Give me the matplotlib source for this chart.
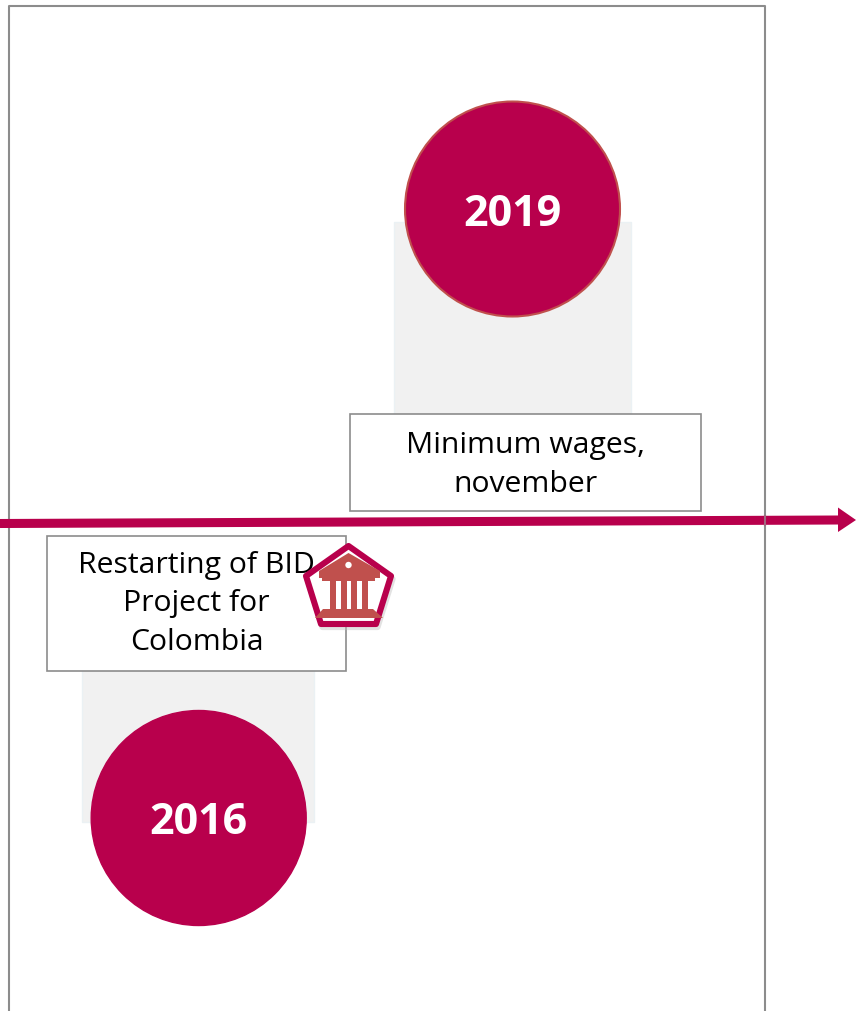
import matplotlib
matplotlib.use('Agg')
import matplotlib.pyplot as plt
from matplotlib.patches import Rectangle, Circle, Polygon

years = ['2016', '2019']
events = ['Restarting of BID\nProject for\nColombia', 'Minimum wages,\nnovember']

crimson = '#b8004c'
icon_red = '#c0504d'
W, H = 856, 1011

plt.rcParams['font.family'] = ['Open Sans', 'DejaVu Sans']

fig = plt.figure(figsize=(W / 100, H / 100), dpi=100)
ax = fig.add_axes([0, 0, 1, 1])
ax.set_xlim(0, W)
ax.set_ylim(H, 0)
ax.axis('off')

# outer frame, runs off the bottom
ax.plot([9, 9, 765, 765], [H + 5, 5.5, 5.5, H + 5], color='#8c8c8c', lw=1.5, zorder=1)

# grey backing panels behind the circles
ax.add_patch(Rectangle((82.5, 660), 232, 161.5, fc='#f1f1f1', ec='#ebf1f4', lw=1, zorder=2))
ax.add_patch(Rectangle((394.5, 221.5), 237, 200, fc='#f1f1f1', ec='#ebf1f4', lw=1, zorder=2))

# year circles
ax.add_patch(Circle((198.7, 818), 107.5, fc=crimson, ec=crimson, lw=1, zorder=3))
ax.add_patch(Circle((512.5, 209), 107.5, fc=crimson, ec=icon_red, lw=1.5, zorder=3))
ax.text(198.5, 823, years[0], color='white', fontsize=31, fontweight='bold', ha='center', va='center', zorder=4)
ax.text(512.5, 214.5, years[1], color='white', fontsize=31, fontweight='bold', ha='center', va='center', zorder=4)

# text boxes
ax.add_patch(Rectangle((47.5, 535.5), 298.5, 135, fc='white', ec='#8c8c8c', lw=1.2, zorder=5))
ax.add_patch(Rectangle((350.5, 414), 351, 96.5, fc='white', ec='#8c8c8c', lw=1.2, zorder=5))
ax.text(196.5, 604, events[0], color='black', fontsize=21.7, ha='center', va='center', linespacing=1.41, zorder=6)
ax.text(525.5, 465, events[1], color='black', fontsize=21.7, ha='center', va='center', linespacing=1.41, zorder=6)

# timeline arrow, slightly tilted
ax.plot([0, 839], [523.5, 520], color=crimson, lw=6.5, solid_capstyle='butt', zorder=7)
ax.add_patch(Polygon([(838, 507.5), (856, 520), (838, 532)], fc=crimson, ec='none', zorder=7))
# frame shows through the arrow
ax.plot([765, 765], [516, 525], color='#a06a80', lw=1.5, zorder=8)

# bank icon: pentagon badge with soft shadow
badge = [(348.5, 546), (391, 576), (376, 624), (321, 624), (306, 576)]
ax.add_patch(Polygon([(x + 1.5, y + 3) for x, y in badge], fc='#bfbfbf', ec='#bfbfbf', lw=4.5,
                     joinstyle='round', alpha=0.45, zorder=8))
ax.add_patch(Polygon(badge, fc='white', ec=crimson, lw=4.4, joinstyle='round', zorder=9))
# roof
ax.add_patch(Polygon([(348.5, 553), (380, 571), (380, 578), (375, 578), (375, 581), (322, 581), (322, 578),
                      (319, 578), (319, 571)], fc=icon_red, ec='none', zorder=10))
ax.add_patch(Circle((348.5, 565), 3.2, fc='white', ec='none', zorder=11))
# columns
for left in [330, 341, 351.5, 362]:
    ax.add_patch(Rectangle((left, 579), 6, 31, fc=icon_red, ec='none', zorder=10))
# base
ax.add_patch(Polygon([(323, 609), (373, 609), (383, 618), (315, 618)], fc=icon_red, ec='none', zorder=10))

fig.savefig('out.png', dpi=100)
